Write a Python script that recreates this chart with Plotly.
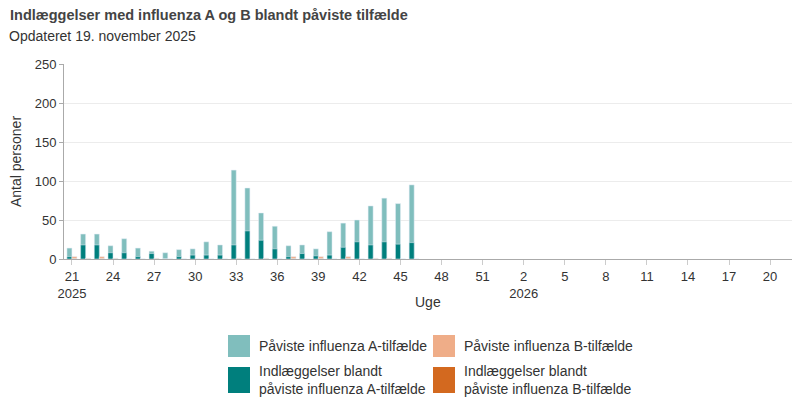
import plotly.graph_objects as go

# uger 21/2025 - 20/2026
weeks_2025 = list(range(21, 53))
weeks_2026 = list(range(1, 21))
categories = [f"2025-{w}" for w in weeks_2025] + [f"2026-{w}" for w in weeks_2026]

# data fra uge 21 til uge 46 (2025)
pos_A = [14, 32, 32, 17, 26, 14, 10, 8, 12, 13, 22, 18, 114, 91, 59, 42, 17, 18, 13, 35, 46, 50, 68, 78, 71, 95]
hosp_A = [3, 18, 18, 8, 8, 3, 7, 0, 3, 5, 5, 5, 18, 36, 24, 13, 3, 7, 4, 5, 15, 22, 18, 22, 19, 21]
pos_B = [3, 1, 3, 1, 0, 0, 1, 0, 0, 0, 0, 0, 1, 0, 1, 0, 3, 0, 3, 0, 3, 0, 1, 1, 0, 0]
hosp_B = [0] * 26

pad = [None] * (len(categories) - len(pos_A))
pos_A += pad
hosp_A += pad
pos_B += pad
hosp_B += pad

tick_vals = categories[::3]
tick_text = []
for c in tick_vals:
    yr, w = c.split("-")
    if c == "2025-21" or c == "2026-2":
        tick_text.append(f"{w}<br>{yr}")
    else:
        tick_text.append(w)

col_A_light = "#80bebd"
col_A_dark = "#007f7d"
col_B_light = "#efad88"
col_B_dark = "#d3691f"
txt = "#333333"
font = "Liberation Sans, Arial, sans-serif"

fig = go.Figure()
fig.add_trace(go.Bar(x=categories, y=pos_A, marker_color=col_A_light, offsetgroup="A",
                     name="Påviste influenza A-tilfælde", showlegend=False))
fig.add_trace(go.Bar(x=categories, y=hosp_A, marker_color=col_A_dark, offsetgroup="A",
                     name="Indlæggelser blandt påviste influenza A-tilfælde", showlegend=False))
fig.add_trace(go.Bar(x=categories, y=pos_B, marker_color=col_B_light, offsetgroup="B",
                     name="Påviste influenza B-tilfælde", showlegend=False))
fig.add_trace(go.Bar(x=categories, y=hosp_B, marker_color=col_B_dark, offsetgroup="B",
                     name="Indlæggelser blandt påviste influenza B-tilfælde", showlegend=False))

# siden har 8px body-margin, saa figuren er 8px mindre og alt er forskudt
OFF = 8
W, H = 800 - OFF, 409 - OFF
ml, mr, mt, mb = 64 - OFF, 8, 64 - OFF, 150
pw, ph = W - ml - mr, H - mt - mb


def px(x):
    # sidens pixel -> paper
    return (x - OFF - ml) / pw


def py(y):
    return (H - mb - (y - OFF)) / ph


# manuel legend
legend_items = [
    (228, 335, 357, col_A_light, "Påviste influenza A-tilfælde"),
    (228, 367, 393, col_A_dark, "Indlæggelser blandt<br>påviste influenza A-tilfælde"),
    (433, 335, 357, col_B_light, "Påviste influenza B-tilfælde"),
    (433, 367, 393, col_B_dark, "Indlæggelser blandt<br>påviste influenza B-tilfælde"),
]
for x0, y0, y1, col, label in legend_items:
    fig.add_shape(type="rect", xref="paper", yref="paper",
                  x0=px(x0), x1=px(x0 + 22), y0=py(y1), y1=py(y0),
                  fillcolor=col, line_width=0)
    fig.add_annotation(xref="paper", yref="paper", x=px(x0 + 29), y=py((y0 + y1) / 2),
                       text=label, showarrow=False, xanchor="left", yanchor="middle",
                       align="left", font=dict(size=14, color=txt, family=font))

fig.add_annotation(xref="paper", yref="paper", x=px(8), y=py(15), text="<b>Indlæggelser med influenza A og B blandt påviste tilfælde</b>",
                   showarrow=False, xanchor="left", yanchor="middle", font=dict(size=14.5, color="#444444", family=font))
fig.add_annotation(xref="paper", yref="paper", x=px(7), y=py(36), text="Opdateret 19. november 2025",
                   showarrow=False, xanchor="left", yanchor="middle", font=dict(size=14, color=txt, family=font))
fig.add_annotation(xref="paper", yref="paper", x=px(16), y=py(162), text="Antal personer", textangle=-90,
                   showarrow=False, xanchor="center", yanchor="middle", font=dict(size=14, color=txt, family=font))
fig.add_annotation(xref="paper", yref="paper", x=px(428), y=py(302), text="Uge",
                   showarrow=False, xanchor="center", yanchor="middle", font=dict(size=14, color=txt, family=font))

fig.update_layout(
    width=W, height=H,
    margin=dict(l=ml, r=mr, t=mt, b=mb, autoexpand=False),
    barmode="group", bargap=0.27, bargroupgap=0,
    plot_bgcolor="white", paper_bgcolor="white",
    font=dict(family=font, size=13, color=txt),
    showlegend=False,
)
fig.update_xaxes(
    type="category", categoryorder="array", categoryarray=categories,
    range=[-0.58, 52.6], tickvals=tick_vals, ticktext=tick_text,
    showline=True, linecolor="#aaaaaa", linewidth=1, showgrid=False,
    ticks="outside", ticklen=5, tickcolor="#cccccc", tickfont=dict(size=13, color=txt),
)
fig.update_yaxes(
    range=[0, 250], dtick=50, showline=True, linecolor="#aaaaaa", linewidth=1,
    gridcolor="#ececec", zeroline=False, ticks="outside", ticklen=4, tickcolor="#aaaaaa",
    tickfont=dict(size=13, color=txt),
)

fig.write_html("out.html")
